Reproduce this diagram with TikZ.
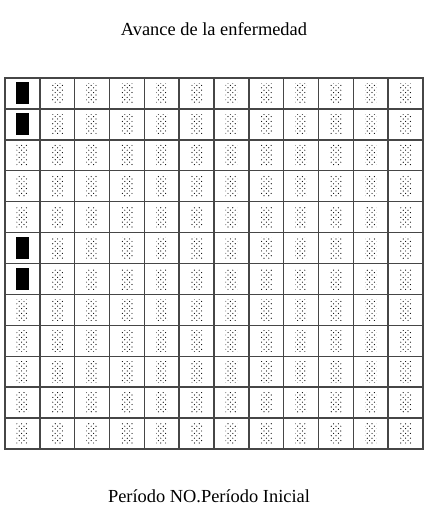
\documentclass[tikz,border=0pt]{standalone}
\usepackage{fontspec}
\setmainfont{Liberation Serif}
\usetikzlibrary{patterns}
\definecolor{gridgray}{RGB}{70,70,70}
\pgfdeclarepatternformonly{sparsedots}{\pgfpoint{-0.6pt}{-0.6pt}}{\pgfpoint{3.0pt}{3.0pt}}{\pgfpoint{3.6pt}{3.6pt}}{
  \pgfpathcircle{\pgfpoint{0pt}{0pt}}{0.45pt}
  \pgfpathcircle{\pgfpoint{1.8pt}{1.8pt}}{0.45pt}
  \pgfusepath{fill}
}
\tikzset{
  cell/.style={rectangle, draw=gridgray, line width=1.1pt,
    minimum width=26.1pt, minimum height=23.2pt, inner sep=0pt},
  sick/.style={rectangle, fill=black, minimum width=9.6pt,
    minimum height=16.5pt, inner sep=0pt},
  healthy/.style={rectangle, pattern=sparsedots, minimum width=8.5pt,
    minimum height=15.5pt, inner sep=0pt},
  caption/.style={font=\fontsize{13.8}{16}\selectfont}
}

\begin{document}
\begin{tikzpicture}[x=0.75pt, y=-0.75pt]
  \useasboundingbox (0,0) rectangle (427,527);
  % Title
  \node[caption] (title) at (214,29) {Avance de la enfermedad};
  % Grid of 12 x 12 cells
  \foreach \r in {0,...,11} {
    \foreach \c in {0,...,11} {
      \node[cell] (cell-\r-\c) at ({5+34.83*(\c+0.5)}, {78+30.92*(\r+0.5)}) {};
    }
  }
  % Cells contents
  \foreach \r in {0,...,11} {
    \foreach \c in {0,...,11} {
      \node[healthy] (mark-\r-\c) at (cell-\r-\c) {};
    }
  }
  \foreach \r in {0,1,5,6} {
    \node[sick] (sick-\r) at (cell-\r-0) {};
  }
  % Footer
  \node[caption] (period) at (209,496) {Período NO.Período Inicial};
\end{tikzpicture}
\end{document}
